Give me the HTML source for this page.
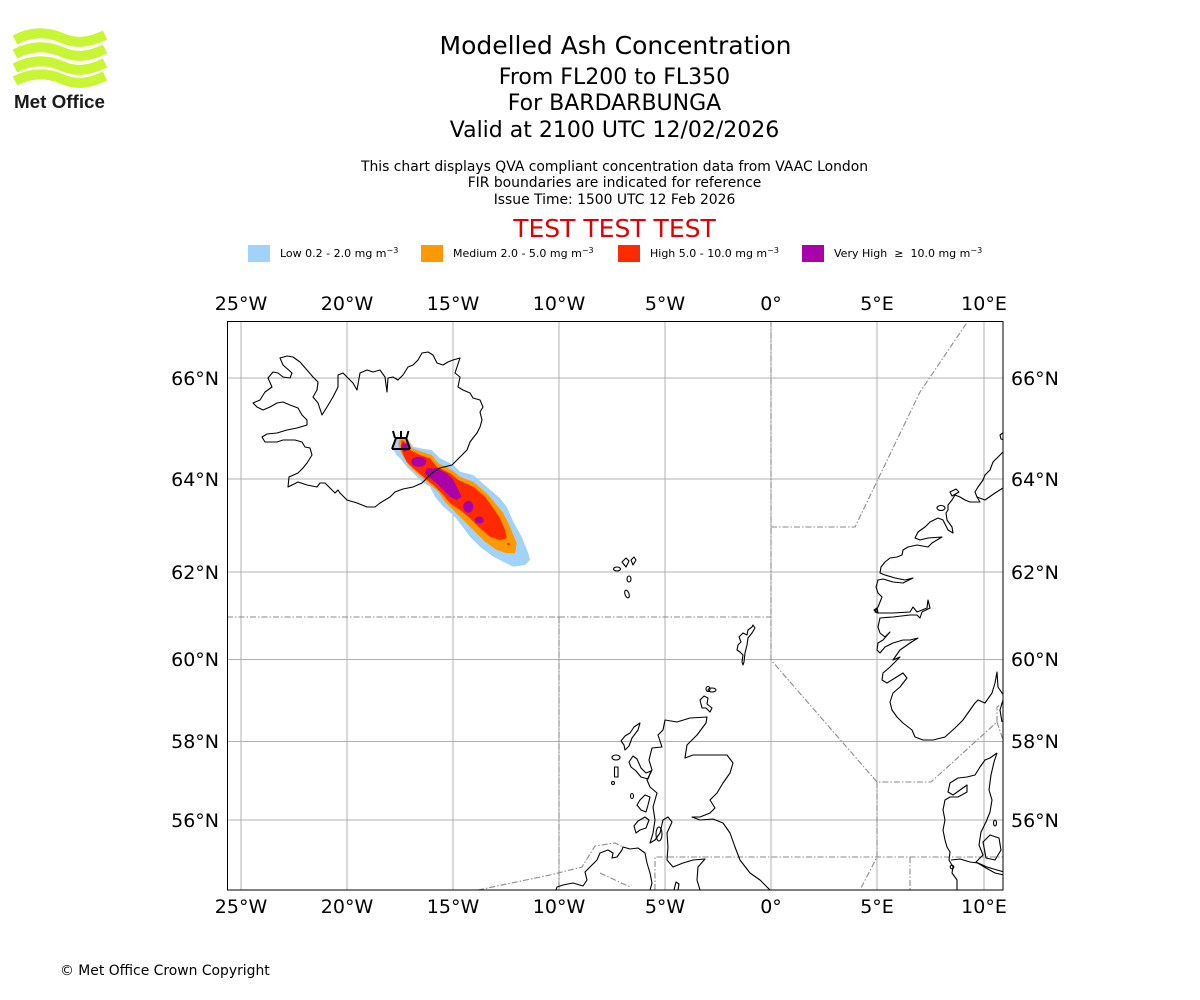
<!DOCTYPE html>
<html><head><meta charset="utf-8"><style>
html,body{margin:0;padding:0;background:#fff;}
svg{display:block;font-family:"DejaVu Sans","Liberation Sans",sans-serif;}
</style></head><body>
<svg width="1200" height="1000" viewBox="0 0 1200 1000" xmlns="http://www.w3.org/2000/svg">
<rect width="1200" height="1000" fill="#fff"/>
<!-- Logo -->
<g fill="none" stroke="#c8f534" stroke-width="10">
<path d="M15,40 C32,31 48,32 62,38 S88,43 105,35"/>
<path d="M15,54 C32,45 48,46 62,52 S88,57 105,49"/>
<path d="M15,68 C32,59 48,60 62,66 S88,71 105,63"/>
<path d="M15,81 C32,72 48,73 62,79 S88,84 105,76"/>
</g>
<text x="14" y="108" font-family="Liberation Sans, sans-serif" font-weight="bold" font-size="18" fill="#1a1a1a" textLength="91" lengthAdjust="spacingAndGlyphs">Met Office</text>

<!-- Titles -->
<g text-anchor="middle" fill="#000">
<text x="615.5" y="54" font-size="25">Modelled Ash Concentration</text>
<text x="614.5" y="84" font-size="22">From FL200 to FL350</text>
<text x="614.5" y="110" font-size="22">For BARDARBUNGA</text>
<text x="614.5" y="137" font-size="22">Valid at 2100 UTC 12/02/2026</text>
<text x="614.5" y="171" font-size="13.9">This chart displays QVA compliant concentration data from VAAC London</text>
<text x="614.5" y="187" font-size="13.9">FIR boundaries are indicated for reference</text>
<text x="614.5" y="204" font-size="13.9">Issue Time: 1500 UTC 12 Feb 2026</text>
<text x="614.5" y="237" font-size="25" fill="#e00000">TEST TEST TEST</text>
</g>

<!-- Legend -->
<rect x="248" y="245" width="22" height="17" fill="#a0d2fa"/>
<rect x="421" y="245" width="22" height="17" fill="#ff9900"/>
<rect x="618" y="245" width="22" height="17" fill="#ff2a00"/>
<rect x="802" y="245" width="22" height="17" fill="#aa00aa"/>
<g font-size="11" fill="#000">
<text x="280" y="257">Low 0.2 - 2.0 mg m<tspan font-size="8" dy="-4">−3</tspan></text>
<text x="453" y="257">Medium 2.0 - 5.0 mg m<tspan font-size="8" dy="-4">−3</tspan></text>
<text x="650" y="257">High 5.0 - 10.0 mg m<tspan font-size="8" dy="-4">−3</tspan></text>
<text x="834" y="257">Very High&#160;&#160;≥&#160;&#160;10.0 mg m<tspan font-size="8" dy="-4">−3</tspan></text>
</g>

<defs><clipPath id="mc"><rect x="227" y="321" width="776" height="569"/></clipPath></defs>

<g clip-path="url(#mc)">
<!-- gridlines -->
<g stroke="#b0b0b0" stroke-width="1">
<line x1="241" y1="321" x2="241" y2="890"/>
<line x1="347" y1="321" x2="347" y2="890"/>
<line x1="453" y1="321" x2="453" y2="890"/>
<line x1="559" y1="321" x2="559" y2="890"/>
<line x1="665" y1="321" x2="665" y2="890"/>
<line x1="771" y1="321" x2="771" y2="890"/>
<line x1="877" y1="321" x2="877" y2="890"/>
<line x1="984" y1="321" x2="984" y2="890"/>
<line x1="227" y1="378" x2="1003" y2="378"/>
<line x1="227" y1="479" x2="1003" y2="479"/>
<line x1="227" y1="572" x2="1003" y2="572"/>
<line x1="227" y1="659.5" x2="1003" y2="659.5"/>
<line x1="227" y1="741.5" x2="1003" y2="741.5"/>
<line x1="227" y1="820" x2="1003" y2="820"/>
</g>

<!-- FIR boundaries -->
<g fill="none" stroke="#8a8a8a" stroke-width="1.1" stroke-dasharray="6 2 1.5 2">
<path d="M227,617 L559,617"/>
<path d="M559,617 L771,617"/>
<path d="M771,321 L771,660 L877,782 L931,782 L997,722 L997,707 L1003,703"/>
<path d="M997,722 L1003,740"/>
<path d="M771,527 L855,527 L920,392 L968,321"/>
<path d="M559,617 L559,890"/>
<path d="M478,890 L550,875 L582,867 L595,846 L615,843 L623,847"/>
<path d="M600,873 L630,887"/>
<path d="M655,890 L655,857 L1003,857"/>
<path d="M877,782 L877,857 L860,890"/>
<path d="M910,857 L910,890"/>
</g>

<!-- Plume -->
<path fill="#a0d2fa" d="M396.7,438.3 L406.7,436.7 L413.3,446.7 L420,448.3 L431.7,450 L440,458.3 L453.3,465 L460,471.7 L473.3,475 L486.7,486.7 L500,498.3 L506.7,506.7 L513.3,521.7 L521.7,536.7 L528.3,553.3 L530,560 L525,565 L513.3,566.7 L503.3,561.7 L493.3,556.7 L480,546.7 L470,536.7 L460,523.3 L453.3,515 L443.3,506.7 L435,496.7 L430,486.7 L421.7,481.7 L413.3,473.3 L406.7,466.7 L400,458.3 L396.7,455 L393.3,450 L393.3,443.3 Z"/>
<path fill="#ff9900" d="M400,438.3 L408.3,440 L411.7,448.3 L421.7,451.7 L431.7,455 L438.3,463.3 L451.7,470 L460,476.7 L473.3,481.7 L486.7,493.3 L496.7,505 L503.3,513.3 L510,526.7 L516.7,543.3 L515,553.3 L506.7,553.3 L496.7,550 L485,541.7 L473.3,530 L463.3,520 L453.3,510 L445,501.7 L438.3,491.7 L426.7,481.7 L416.7,473.3 L408.3,465 L403.3,456.7 L400,450 L398.3,443.3 Z"/>
<path fill="#ff2a00" d="M401.7,440 L406.7,443.3 L410,450 L420,455 L430,458.3 L436.7,466.7 L450,473.3 L458.3,480 L473.3,486.7 L485,496.7 L493.3,508.3 L500,518.3 L505,530 L506.7,538.3 L500,540 L490,536.7 L480,528.3 L470,518.3 L460,510 L450,503.3 L443.3,495 L433.3,485 L423.3,476.7 L413.3,468.3 L406.7,461.7 L403.3,455 L400.7,446.7 Z"/>
<g fill="#aa00aa">
<path d="M403,443 L407,444 L408,450 L404,452 L401,447 Z"/>
<ellipse cx="418.7" cy="461.7" rx="7.5" ry="5"/>
<path d="M426.7,468.3 L436.7,468.3 L446.7,473.3 L453.3,480 L458.3,490 L461.7,496.7 L456.7,500 L450,496.7 L443.3,490 L436.7,483.3 L430,478.3 L425,473.3 Z"/>
<ellipse cx="468.3" cy="506.7" rx="5" ry="6"/>
<ellipse cx="479.3" cy="520" rx="4.5" ry="3.5"/>
</g>
<rect x="507" y="543" width="3" height="2" fill="#ff2a00"/>

<!-- Coastlines -->
<g fill="none" stroke="#000" stroke-width="1.1" stroke-linejoin="round">
<!-- Iceland -->
<path d="M253,403 L260,400 L265,392 L272,387 L268,378 L273,372 L278,373 L283,377 L290,378 L292,373 L283,365 L280,358 L287,356 L293,357 L300,362 L307,370 L313,377 L318,382 L317,390 L313,397 L318,403 L322,415 L327,407 L333,397 L338,387 L338,375 L343,373 L348,378 L353,383 L357,390 L360,373 L367,370 L373,372 L380,370 L385,377 L387,392 L388,378 L393,377 L398,380 L403,375 L408,367 L413,365 L418,360 L422,353 L428,352 L433,355 L437,363 L443,365 L448,362 L453,360 L460,358 L457,367 L455,373 L460,377 L458,387 L463,390 L470,393 L473,398 L480,400 L483,407 L480,412 L482,420 L480,427 L477,433 L473,438 L470,442 L467,450 L462,455 L457,460 L452,465 L440,468 L432,473 L425,480 L422,483 L413,487 L403,489 L395,492 L390,497 L380,503 L375,507 L367,507 L357,503 L347,500 L340,493 L338,490 L335,493 L330,488 L325,483 L320,483 L317,487 L307,485 L298,482 L292,485 L288,487 L289,477 L298,473 L303,468 L307,463 L312,455 L310,448 L305,447 L302,442 L295,440 L283,440 L277,442 L265,442 L262,437 L267,434 L277,433 L287,430 L297,428 L307,425 L307,420 L302,415 L298,408 L290,405 L283,402 L277,403 L270,407 L263,410 L257,407 Z"/>
<!-- Faroes -->
<path d="M622,562 L626,558 L629,561 L626,567 Z"/>
<path d="M631,560 L634,557 L636,560 L633,565 Z"/>
<ellipse cx="617" cy="569" rx="3.5" ry="2"/>
<ellipse cx="629" cy="579" rx="2" ry="3"/>
<ellipse cx="627" cy="594" rx="2" ry="4" transform="rotate(-20 627 594)"/>
<!-- Shetland -->
<path d="M753,625 L755,628 L752,633 L748,638 L747,645 L745,653 L744,662 L743,665 L742,662 L743,655 L740,652 L737,650 L738,645 L741,642 L739,637 L743,633 L747,635 L748,630 L752,627 Z"/>
<!-- Orkney -->
<path d="M700,700 L704,696 L708,698 L707,704 L712,708 L710,712 L706,708 L702,708 Z"/>
<ellipse cx="712" cy="690" rx="4" ry="2"/>
<ellipse cx="708" cy="689" rx="2" ry="2.5"/>
<!-- Great Britain -->
<path d="M700,890 L697,880 L698,867 L705,859 L693,860 L683,863 L673,867 L667,860 L668,847 L667,833 L672,822 L668,817 L663,820 L660,833 L655,840 L650,843 L653,833 L655,820 L653,807 L657,793 L650,787 L647,780 L652,770 L649,760 L652,748 L662,747 L658,735 L663,730 L665,720 L677,722 L690,718 L707,717 L706,723 L697,735 L687,745 L685,758 L693,755 L707,755 L727,755 L733,763 L730,773 L723,783 L717,793 L710,800 L715,808 L710,813 L700,817 L692,817 L700,820 L713,819 L723,823 L730,833 L735,847 L740,860 L750,873 L760,880 L770,890"/>
<path d="M674,890 L676,882 L679,884 L678,890"/>
<!-- Hebrides etc -->
<path d="M640,723 L638,730 L632,738 L629,746 L625,750 L624,745 L621,741 L625,736 L630,733 L634,727 Z"/>
<ellipse cx="616" cy="757.5" rx="4" ry="2.5"/>
<rect x="614.5" y="767" width="3.5" height="10"/>
<circle cx="613" cy="783" r="1.5"/>
<path d="M629,762 L633,756 L637,759 L641,768 L646,773 L651,771 L648,779 L641,777 L636,771 L631,767 Z"/>
<path d="M640,800 L645,795 L650,797 L648,805 L646,812 L641,810 L637,805 Z"/>
<ellipse cx="632" cy="796" rx="1.5" ry="2.5"/>
<path d="M634,826 L638,821 L645,817 L649,820 L646,828 L640,830 L636,833 Z"/>
<ellipse cx="659" cy="834" rx="3" ry="7"/>
<!-- Northern Ireland -->
<path d="M556,890 L557,887 L563,885 L573,883 L583,886 L587,880 L585,872 L592,865 L597,860 L600,853 L608,850 L613,853 L612,858 L617,857 L622,850 L623,847 L630,849 L638,848 L645,853 L647,863 L650,873 L652,883 L650,890"/>
<!-- Norway -->
<path d="M1003,452 L998,457 L993,462 L990,470 L985,475 L983,480 L978,487 L975,492 L977,497 L980,502 L970,502 L965,500 L960,497 L955,495 L952,500 L948,505 L948,510 L946,513 L947,520 L952,527 L953,533 L948,530 L943,520 L938,518 L930,522 L925,527 L918,532 L915,538 L920,540 L928,538 L942,537 L932,543 L928,547 L917,545 L908,547 L903,550 L902,555 L897,557 L890,558 L885,562 L881,567 L880,573 L885,575 L895,578 L905,580 L913,578 L903,583 L893,582 L883,579 L878,580 L876,587 L878,593 L882,597 L880,602 L878,607 L875,612 L878,613 L893,613 L910,612 L913,607 L917,612 L927,608 L928,600 L930,608 L922,612 L920,618 L917,615 L910,615 L893,617 L880,618 L878,627 L880,633 L885,637 L890,632 L883,640 L878,643 L877,650 L880,653 L885,647 L893,643 L903,640 L910,640 L918,638 L910,643 L900,650 L893,660 L900,657 L890,667 L883,673 L882,680 L887,683 L895,678 L903,673 L907,678 L900,687 L893,693 L890,702 L892,710 L897,717 L903,723 L912,730 L915,737 L923,740 L933,740 L945,737 L955,728 L963,720 L970,710 L975,703 L978,700 L985,703 L992,693 L995,683 L997,672 L998,687 L1002,693 L1005,697"/>
<path d="M977,497 L985,500 L995,493 L1003,488"/>
<path d="M1004,432 L1000,435 L1001,439 L1004,440"/>
<path d="M950,492 L956,489 L959,492 L952,496 Z"/>
<ellipse cx="941" cy="508" rx="4" ry="2.5"/>
<path d="M874,610 L877,608 L878,613 Z"/>
<!-- Denmark / Germany / Sweden -->
<path d="M997,753 L990,758 L985,760 L980,767 L975,775 L967,777 L958,778 L950,783 L948,792 L953,795 L960,790 L967,785 L967,792 L958,797 L950,797 L945,800 L943,810 L945,820 L943,830 L945,840 L947,847 L950,852 L949,860 L953,867 L952,873 L957,880 L957,890"/>
<path d="M997,753 L994,762 L991,775 L989,790 L992,800 L990,812 L986,822 L981,832 L979,845 L983,855 L976,862 L986,868 L995,873 L1004,875"/>
<path d="M983,842 L990,835 L999,838 L1001,850 L995,860 L986,858 Z"/>
<ellipse cx="995" cy="823" rx="1.5" ry="3"/>
<path d="M951,860 L960,859 L970,862 L978,863 L987,867 L997,870 L1004,872"/>
<circle cx="952" cy="867" r="1.8"/>
<path d="M1003,700 L1000,710 L1002,722"/>
</g>

<!-- Volcano symbol -->
<g fill="none" stroke="#000" stroke-width="2">
<path d="M392,449 L410,449"/>
<path d="M392,449 L396,438 L406,438 L410,449"/>
<path d="M395,438 L393,431 M401,438 L401,431 M406.5,438 L408.5,431"/>
</g>
</g>

<!-- Map border -->
<rect x="227.5" y="321.5" width="775.5" height="568.5" fill="none" stroke="#000" stroke-width="1"/>

<!-- Tick labels -->
<g font-size="19" fill="#000" text-anchor="middle">
<text x="241" y="310">25°W</text>
<text x="347" y="310">20°W</text>
<text x="453" y="310">15°W</text>
<text x="559" y="310">10°W</text>
<text x="665" y="310">5°W</text>
<text x="771" y="310">0°</text>
<text x="877" y="310">5°E</text>
<text x="984" y="310">10°E</text>
<text x="241" y="913">25°W</text>
<text x="347" y="913">20°W</text>
<text x="453" y="913">15°W</text>
<text x="559" y="913">10°W</text>
<text x="665" y="913">5°W</text>
<text x="771" y="913">0°</text>
<text x="877" y="913">5°E</text>
<text x="984" y="913">10°E</text>
</g>
<g font-size="19" fill="#000" text-anchor="end">
<text x="219" y="385">66°N</text>
<text x="219" y="486">64°N</text>
<text x="219" y="579">62°N</text>
<text x="219" y="666">60°N</text>
<text x="219" y="748">58°N</text>
<text x="219" y="827">56°N</text>
</g>
<g font-size="19" fill="#000" text-anchor="start">
<text x="1011" y="385">66°N</text>
<text x="1011" y="486">64°N</text>
<text x="1011" y="579">62°N</text>
<text x="1011" y="666">60°N</text>
<text x="1011" y="748">58°N</text>
<text x="1011" y="827">56°N</text>
</g>

<text x="60" y="975" font-size="13.9" fill="#000">© Met Office Crown Copyright</text>
</svg>
</body></html>
